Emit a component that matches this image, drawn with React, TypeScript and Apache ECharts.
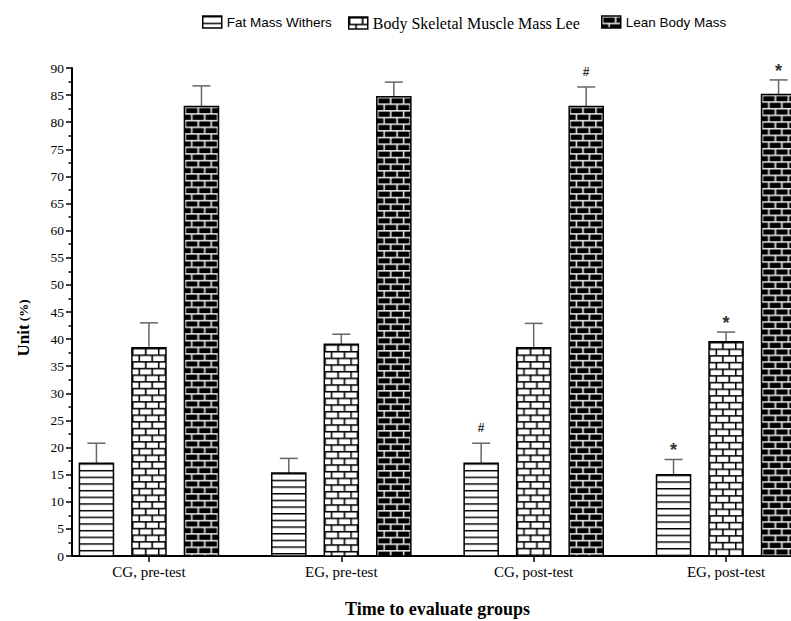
import React, { useEffect, useRef } from "react";
import * as echarts from "echarts";

const categories = ["CG, pre-test", "EG, pre-test", "CG, post-test", "EG, post-test"];
const seriesNames = ["Fat Mass Withers", "Body Skeletal Muscle Mass Lee", "Lean Body Mass"];

const fatMass = [17.1, 15.3, 17.1, 15.0];
const fatMassUpper = [20.8, 18.0, 20.8, 17.8];
const skeletalMass = [38.4, 39.05, 38.4, 39.5];
const skeletalMassUpper = [43.0, 40.9, 42.9, 41.3];
const leanMass = [82.9, 84.7, 82.9, 85.1];
const leanMassUpper = [86.7, 87.4, 86.5, 87.8];

const fatMarks = ["", "", "#", "*"];
const skeletalMarks = ["", "", "", "*"];
const leanMarks = ["", "", "#", "*"];

const yMin = 0;
const yMax = 90;
const yStep = 5;
const categoryPositions = [1, 2, 3, 4];

function makePattern(w: number, h: number, draw: (ctx: CanvasRenderingContext2D) => void) {
  const s = 3;
  const c = document.createElement("canvas");
  c.width = Math.round(w * s);
  c.height = Math.round(h * s);
  const ctx = c.getContext("2d")!;
  ctx.scale(s, s);
  draw(ctx);
  return { image: c, repeat: "repeat", imageWidth: w, imageHeight: h } as any;
}

function brick(bg: string, mortar: string, t: number) {
  const W = 26;
  const H = 40 / 3;
  const rh = H / 2;
  return makePattern(W, H, (ctx) => {
    ctx.fillStyle = bg;
    ctx.fillRect(0, 0, W, H);
    ctx.fillStyle = mortar;
    ctx.fillRect(0, 0, W, t);
    ctx.fillRect(0, rh, W, t);
    ctx.fillRect(0, 0, t, rh);
    ctx.fillRect(W / 2, 0, t, rh);
    ctx.fillRect(W / 4, rh, t, rh);
    ctx.fillRect((3 * W) / 4, rh, t, rh);
  });
}

export default function App() {
  const ref = useRef<HTMLDivElement>(null);

  useEffect(() => {
    document.body.style.margin = "0";
    const chart = echarts.init(ref.current!, null, { renderer: "svg" });

    const stripePattern = makePattern(10, 20 / 3, (ctx) => {
      ctx.fillStyle = "#fff";
      ctx.fillRect(0, 0, 10, 20 / 3);
      ctx.fillStyle = "#000";
      ctx.fillRect(0, 0, 10, 1.5);
    });
    const whiteBrick = brick("#fff", "#000", 1.6);
    const blackBrick = brick("#000", "#e8e8e8", 1.6);

    const barW = 0.177;
    const offset = 0.273;
    const capHalf = 9;
    const errColor = "#666";

    const makeRender = (marks: string[], off: number, pattern: any) => (params: any, api: any) => {
      const i = params.dataIndex;
      const x = api.value(0) + off;
      const base = api.coord([x, 0]);
      const topPt = api.coord([x, api.value(1)]);
      const capPt = api.coord([x, api.value(2)]);
      const w = api.size([barW, 0])[0];
      const left = base[0] - w / 2;
      const h = base[1] - topPt[1];
      const children: any[] = [
        {
          type: "line",
          shape: { x1: base[0], y1: topPt[1], x2: base[0], y2: capPt[1] },
          style: { stroke: errColor, lineWidth: 1.5 },
        },
        {
          type: "line",
          shape: { x1: base[0] - capHalf, y1: capPt[1], x2: base[0] + capHalf, y2: capPt[1] },
          style: { stroke: errColor, lineWidth: 1.5 },
        },
        {
          type: "rect",
          x: left,
          y: topPt[1],
          shape: { x: 0, y: 0, width: w, height: h },
          style: { fill: pattern, stroke: "#000", lineWidth: 1.5 },
        },
      ];
      const m = marks[i];
      if (m) {
        const isStar = m === "*";
        children.push({
          type: "text",
          x: base[0],
          y: capPt[1] - (isStar ? 9 : 15),
          style: {
            text: m,
            fill: "#333",
            fontFamily: "Liberation Sans",
            fontWeight: "bold",
            fontSize: isStar ? 18 : 12,
            align: "center",
            verticalAlign: "middle",
          },
        });
      }
      return { type: "group", children };
    };

    const buildData = (vals: number[], upper: number[]) =>
      categoryPositions.map((p, i) => [p, vals[i], upper[i]]);

    const legendBase = {
      top: 10,
      icon: "rect",
      itemWidth: 19,
      itemHeight: 12,
      itemStyle: { borderColor: "#000", borderWidth: 1.5 },
      formatter: (name: string) =>
        name === seriesNames[1] ? `{serif|${name}}` : `{sans|${name}}`,
      textStyle: {
        color: "#000",
        rich: {
          sans: { fontFamily: "Liberation Sans", fontSize: 13.5, color: "#000" },
          serif: { fontFamily: "Liberation Serif", fontSize: 16, color: "#000" },
        },
      },
    };

    const option: any = {
      animation: false,
      backgroundColor: "#fff",
      legend: [
        { ...legendBase, left: 197, data: [seriesNames[0]] },
        { ...legendBase, left: 343, data: [seriesNames[1]] },
        { ...legendBase, left: 596, data: [seriesNames[2]] },
      ],
      grid: { left: 72, top: 68, width: 731, bottom: 65, outerBoundsMode: "none" },
      xAxis: {
        type: "value",
        min: 0.6,
        max: 4.4,
        splitLine: { show: false },
        axisLine: { show: true, lineStyle: { color: "#000", width: 2 } },
        axisTick: {
          show: true,
          customValues: categoryPositions,
          length: 6,
          lineStyle: { color: "#000", width: 1.5 },
        },
        axisLabel: {
          customValues: categoryPositions,
          formatter: (v: number) => categories[Math.round(v) - 1] ?? "",
          fontFamily: "Liberation Serif",
          fontSize: 15,
          color: "#000",
          margin: 8,
        },
        name: "Time to evaluate groups",
        nameLocation: "middle",
        nameGap: 44,
        nameTextStyle: {
          fontFamily: "Liberation Serif",
          fontWeight: "bold",
          fontSize: 18,
          color: "#000",
        },
      },
      yAxis: {
        type: "value",
        min: yMin,
        max: yMax,
        interval: yStep,
        splitLine: { show: false },
        axisLine: { show: true, lineStyle: { color: "#000", width: 2 } },
        axisTick: { show: true, length: 6, lineStyle: { color: "#000", width: 1.5 } },
        minorTick: { show: true, splitNumber: 2, length: 3.5, lineStyle: { color: "#000", width: 1.5 } },
        minorSplitLine: { show: false },
        axisLabel: {
          fontFamily: "Liberation Serif",
          fontSize: 13.5,
          color: "#000",
          margin: 8,
        },
      },
      graphic: [
        {
          type: "text",
          x: 23,
          y: 328,
          rotation: Math.PI / 2,
          style: {
            text: "{b|Unit} {s|(%)}",
            align: "center",
            verticalAlign: "middle",
            rich: {
              b: { fontFamily: "Liberation Serif", fontWeight: "bold", fontSize: 17, fill: "#000" },
              s: { fontFamily: "Liberation Serif", fontWeight: "bold", fontSize: 13, fill: "#000" },
            },
          },
        },
      ],
      series: [
        {
          name: seriesNames[0],
          type: "custom",
          itemStyle: { color: stripePattern, borderColor: "#000", borderWidth: 1.5 },
          encode: { x: 0, y: [1, 2] },
          data: buildData(fatMass, fatMassUpper),
          renderItem: makeRender(fatMarks, -offset, stripePattern),
        },
        {
          name: seriesNames[1],
          type: "custom",
          itemStyle: { color: whiteBrick, borderColor: "#000", borderWidth: 1.5 },
          encode: { x: 0, y: [1, 2] },
          data: buildData(skeletalMass, skeletalMassUpper),
          renderItem: makeRender(skeletalMarks, 0, whiteBrick),
        },
        {
          name: seriesNames[2],
          type: "custom",
          itemStyle: { color: blackBrick, borderColor: "#000", borderWidth: 1.5 },
          encode: { x: 0, y: [1, 2] },
          data: buildData(leanMass, leanMassUpper),
          renderItem: makeRender(leanMarks, offset, blackBrick),
        },
      ],
    };

    chart.setOption(option);
    return () => chart.dispose();
  }, []);

  return <div ref={ref} style={{ width: 791, height: 621 }} />;
}
